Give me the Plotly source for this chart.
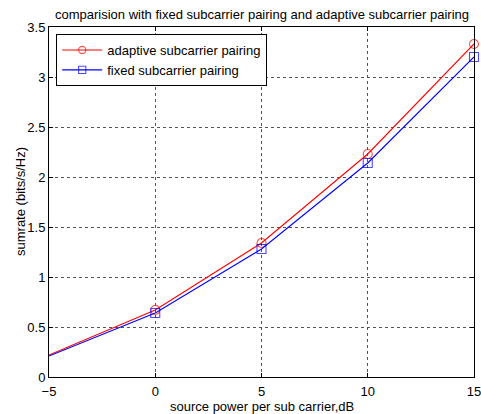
import plotly.graph_objects as go

x_vals = [-5, 0, 5, 10, 15]
adaptive = [0.22, 0.67, 1.34, 2.23, 3.33]
fixed = [0.21, 0.64, 1.28, 2.14, 3.20]
marker_sizes = [0, 9, 9, 9, 9]

fig = go.Figure()
fig.add_trace(go.Scatter(x=x_vals, y=adaptive, mode="lines+markers", name="adaptive subcarrier pairing",
                         line=dict(color="#ff0000", width=1.1),
                         marker=dict(symbol="circle-open", size=marker_sizes, color="#ff0000", line=dict(width=1.1)),
                         cliponaxis=False))
fig.add_trace(go.Scatter(x=x_vals, y=fixed, mode="lines+markers", name="fixed subcarrier pairing",
                         line=dict(color="#0000ff", width=1.1),
                         marker=dict(symbol="square-open", size=marker_sizes, color="#0000ff", line=dict(width=1.1)),
                         cliponaxis=False))

axis_common = dict(showline=True, linecolor="black", linewidth=1, mirror="ticks", ticks="inside",
                   ticklen=4, tickcolor="black", showgrid=True, gridcolor="#555555", griddash="dot",
                   gridwidth=1, zeroline=False, tickfont=dict(size=13, color="black"), automargin=False,
                   ticklabeloverflow="allow")

fig.update_layout(
    width=481, height=414,
    margin=dict(l=49, r=7, t=27, b=37),
    paper_bgcolor="white", plot_bgcolor="white",
    font=dict(family="Liberation Sans, Arial, sans-serif", size=13, color="black"),
    xaxis=dict(range=[-5, 15], tickvals=[-5, 0, 5, 10, 15], ticklabelstandoff=2, **axis_common),
    yaxis=dict(range=[0, 3.5], tickvals=[0, 0.5, 1, 1.5, 2, 2.5, 3, 3.5],
               ticktext=["0", "0.5", "1", "1.5", "2", "2.5", "3", "3.5"], **axis_common),
    legend=dict(x=0.017, y=0.98, xanchor="left", yanchor="top", bgcolor="white",
                bordercolor="black", borderwidth=1, font=dict(size=13), tracegroupgap=0,
                itemwidth=40),
    showlegend=True,
    hovermode=False,
    annotations=[
        dict(text="comparision with fixed subcarrier pairing and adaptive subcarrier pairing",
             xref="paper", yref="paper", x=0.5, y=1.0, yshift=13, showarrow=False,
             xanchor="center", yanchor="middle", font=dict(size=13)),
        dict(text="source power per sub carrier,dB", xref="paper", yref="paper", x=0.5, y=0,
             yshift=-29, showarrow=False, xanchor="center", yanchor="middle", font=dict(size=13)),
        dict(text="sumrate (bits/s/Hz)", xref="paper", yref="paper", x=0, y=0.5, xshift=-29,
             textangle=-90, showarrow=False, xanchor="center", yanchor="middle", font=dict(size=13)),
    ],
)

# remove the default page margin so the 481x414 figure fills the window exactly
fig.write_html("out.html", config={"displayModeBar": False},
               post_script="document.body.style.margin='0';document.body.style.overflow='hidden';")
